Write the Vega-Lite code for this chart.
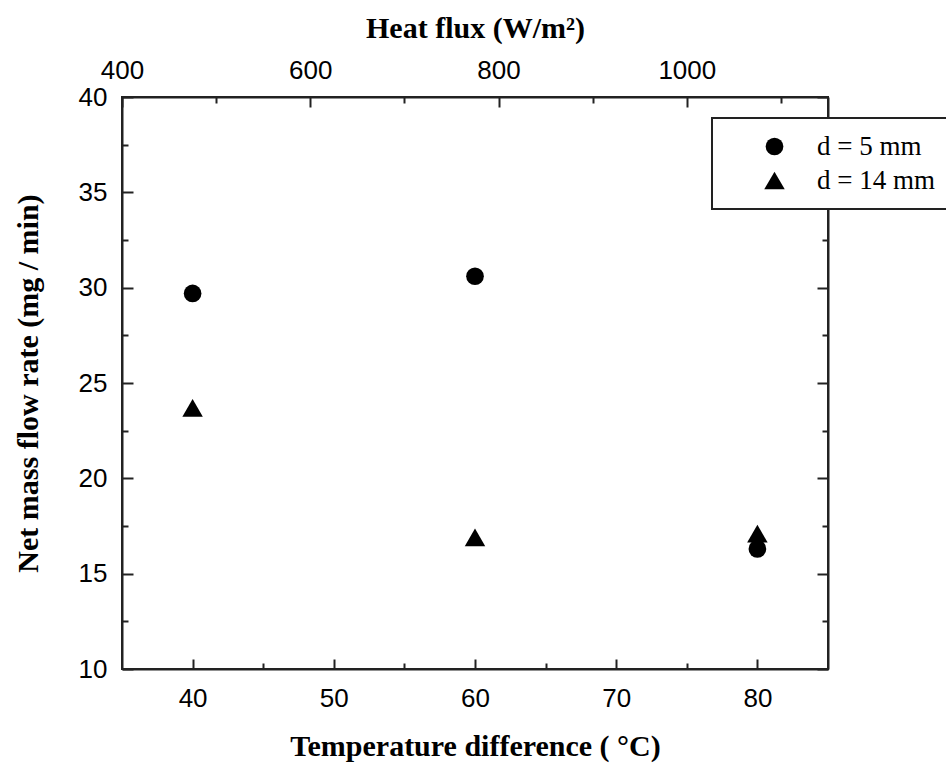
{
  "$schema": "https://vega.github.io/schema/vega-lite/v6.json",
  "width": 706,
  "height": 572,
  "autosize": {"type": "none"},
  "padding": {"left": 122, "top": 97, "right": 118, "bottom": 98},
  "background": "white",
  "data": {
    "values": [
      {"dT": 40, "heatflux": 475, "rate": 29.7, "d": "d = 5 mm"},
      {"dT": 60, "heatflux": 773, "rate": 30.6, "d": "d = 5 mm"},
      {"dT": 80, "heatflux": 1072, "rate": 16.3, "d": "d = 5 mm"},
      {"dT": 40, "heatflux": 475, "rate": 23.7, "d": "d = 14 mm"},
      {"dT": 60, "heatflux": 773, "rate": 16.9, "d": "d = 14 mm"},
      {"dT": 80, "heatflux": 1072, "rate": 17.1, "d": "d = 14 mm"}
    ]
  },
  "config": {
    "view": {"stroke": "#222", "strokeWidth": 2},
    "axis": {
      "domainColor": "#222",
      "domainWidth": 2,
      "tickColor": "#222",
      "tickWidth": 2,
      "labelFont": "Liberation Sans",
      "labelFontSize": 26,
      "labelColor": "#000",
      "labelFlush": false,
      "titleFont": "Liberation Serif",
      "titleFontWeight": "bold",
      "titleFontSize": 30,
      "titleColor": "#000",
      "grid": false
    },
    "legend": {
      "orient": "none",
      "legendX": 590,
      "legendY": 21,
      "strokeColor": "#222",
      "strokeWidth": 2,
      "fillColor": "white",
      "padding": 15,
      "symbolOffset": 34,
      "symbolFillColor": "black",
      "symbolStrokeWidth": 0,
      "labelFont": "Liberation Serif",
      "labelFontSize": 27,
      "labelColor": "#000",
      "labelOffset": 29,
      "rowPadding": 6,
      "title": null
    }
  },
  "layer": [
    {
      "mark": {"type": "point", "filled": true, "opacity": 1, "color": "black"},
      "encoding": {
        "x": {
          "field": "dT",
          "type": "quantitative",
          "scale": {"domain": [35, 85], "nice": false, "zero": false},
          "axis": {
            "orient": "bottom",
            "title": "Temperature difference ( °C)",
            "values": [40, 45, 50, 55, 60, 65, 70, 75, 80],
            "labelExpr": "datum.value % 10 === 0 ? datum.label : ''",
            "tickSize": {"condition": {"test": "datum.value % 10 === 0", "value": -10}, "value": -6},
            "labelPadding": 26,
            "titlePadding": 20
          }
        },
        "y": {
          "field": "rate",
          "type": "quantitative",
          "scale": {"domain": [10, 40], "nice": false, "zero": false},
          "axis": {
            "orient": "left",
            "title": "Net mass flow rate (mg / min)",
            "values": [10, 12.5, 15, 17.5, 20, 22.5, 25, 27.5, 30, 32.5, 35, 37.5, 40],
            "labelExpr": "datum.value % 5 === 0 ? datum.label : ''",
            "tickSize": {"condition": {"test": "datum.value % 5 === 0", "value": -11}, "value": -6},
            "labelPadding": 26,
            "titlePadding": 35
          }
        },
        "shape": {
          "field": "d",
          "type": "nominal",
          "scale": {"domain": ["d = 5 mm", "d = 14 mm"], "range": ["circle", "triangle-up"]},
          "legend": {"title": null}
        },
        "size": {
          "field": "d",
          "type": "nominal",
          "scale": {"domain": ["d = 5 mm", "d = 14 mm"], "range": [313, 420]},
          "legend": {"title": null}
        }
      }
    },
    {
      "mark": {"type": "point", "opacity": 0},
      "encoding": {
        "x": {
          "field": "heatflux",
          "type": "quantitative",
          "scale": {"domain": [400, 1150], "nice": false, "zero": false},
          "axis": {
            "orient": "top",
            "title": "Heat flux (W/m²)",
            "format": "d",
            "values": [400, 500, 600, 700, 800, 900, 1000, 1100],
            "labelExpr": "datum.value % 200 === 0 ? datum.label : ''",
            "tickSize": {"condition": {"test": "datum.value % 200 === 0", "value": -10}, "value": -6},
            "labelPadding": 24,
            "titlePadding": 14
          }
        },
        "y": {
          "field": "rate",
          "type": "quantitative",
          "axis": {
            "orient": "right",
            "title": null,
            "labels": false,
            "values": [10, 12.5, 15, 17.5, 20, 22.5, 25, 27.5, 30, 32.5, 35, 37.5, 40],
            "tickSize": {"condition": {"test": "datum.value % 5 === 0", "value": -11}, "value": -6}
          }
        }
      }
    }
  ],
  "resolve": {
    "scale": {"x": "independent"},
    "axis": {"x": "independent", "y": "independent"}
  }
}
